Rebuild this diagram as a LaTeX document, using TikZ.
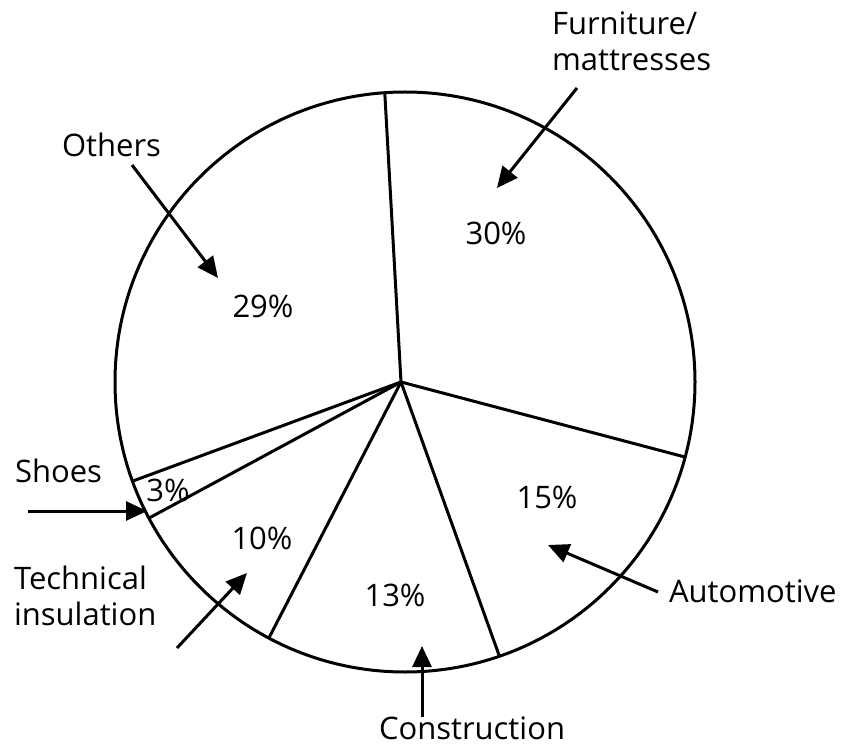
\documentclass[tikz,border=0pt]{standalone}
\usepackage{fontspec}
\setmainfont{Open Sans}
\usetikzlibrary{arrows.meta}
\begin{document}
\begin{tikzpicture}[x=1pt,y=-1pt,
  line width=3pt,
  lbl/.style={inner sep=0pt, outer sep=0pt, anchor=base west, font=\fontsize{31}{36}\selectfont, align=left},
  pct/.style={inner sep=0pt, outer sep=0pt, anchor=base, font=\fontsize{31}{36}\selectfont},
  pointer/.style={-{Triangle[length=21pt,width=19pt]}, line width=3pt}]
\useasboundingbox (0,0) rectangle (849,746);
% pie
\node[circle, draw, minimum size=580pt, inner sep=0pt, outer sep=0pt] (pie) at (405,382) {};
\coordinate (o) at (401,382);
\draw (o) -- (pie.94.7);
\draw (o) -- (pie.-15.3);
\draw (o) -- (pie.-71.3);
\draw (o) -- (pie.-118.2);
\draw (o) -- (pie.208.6);
\draw (o) -- (pie.200.3);
% percentages
\node[pct] (p30) at (496,244) {30\%};
\node[pct] (p29) at (263,317) {29\%};
\node[pct] (p15) at (547,508) {15\%};
\node[pct] (p13) at (395,606) {13\%};
\node[pct] (p10) at (262,549) {10\%};
\node[pct] (p3) at (168,501) {3\%};
% labels (base anchor = baseline of last line)
\node[lbl] (furn) at (552,71) {Furniture/\\mattresses};
\node[lbl] (others) at (62,157) {Others};
\node[lbl] (shoes) at (15,482) {Shoes};
\node[lbl] (tech) at (14,625) {Technical\\insulation};
\node[lbl] (auto) at (669,602) {Automotive};
\node[lbl] (constr) at (379,739) {Construction};
% arrows
\coordinate (fs) at (577,88);  \coordinate (ft) at (497,188);
\coordinate (os) at (132,165); \coordinate (ot) at (218,278);
\coordinate (ss) at (28,511);  \coordinate (st) at (147,511);
\coordinate (ts) at (177,648); \coordinate (tt) at (247,573);
\coordinate (cs) at (422,717); \coordinate (ct) at (422,646);
\coordinate (as) at (658,592); \coordinate (at2) at (548,545);
\draw[pointer] (fs) -- (ft);
\draw[pointer] (os) -- (ot);
\draw[pointer] (ss) -- (st);
\draw[pointer] (ts) -- (tt);
\draw[pointer] (cs) -- (ct);
\draw[pointer] (as) -- (at2);
\end{tikzpicture}
\end{document}
